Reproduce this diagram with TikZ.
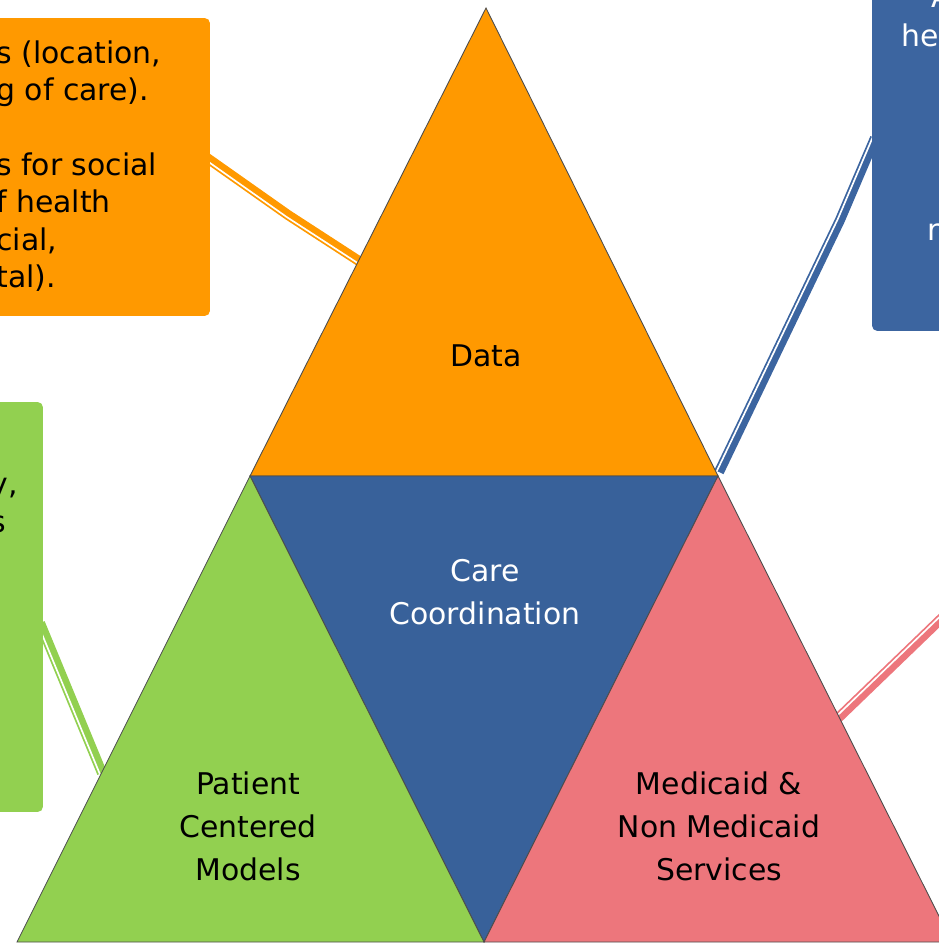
\documentclass[tikz,border=0pt]{standalone}
\usepackage{fontspec}
\setmainfont{DejaVu Sans}
\usepackage{xcolor}
\usepackage{tikz}
\definecolor{datacolor}{RGB}{255,153,0}
\definecolor{carecolor}{RGB}{56,97,154}
\definecolor{careboxcolor}{RGB}{60,101,160}
\definecolor{patientcolor}{RGB}{146,208,80}
\definecolor{servicecolor}{RGB}{237,118,124}

\begin{document}
\begin{tikzpicture}[
    x=0.02cm, y=-0.02cm,
    tri/.style={draw=black!70, line width=0.5pt, line join=miter, fill=#1},
    panel/.style={fill=#1, rounded corners=3pt, inner sep=0pt},
    trilabel/.style={font=\fontsize{17}{24.4}\selectfont, align=center, text=#1},
    notetext/.style={font=\fontsize{17}{21.3}\selectfont, align=left, inner sep=0pt, text=#1},
    link/.style={draw=#1, line width=5.7pt},
    linkgap/.style={draw=white, line width=0.95pt}
]
    \useasboundingbox (0,0) rectangle (939,946);
    \clip (0,0) rectangle (939,946);

    % Triangle corners
    \coordinate (top) at (486,8);
    \coordinate (midl) at (250,476);
    \coordinate (midr) at (718,476);
    \coordinate (botl) at (17,942);
    \coordinate (botm) at (484,942);
    \coordinate (botr) at (952,942);

    % Connector ends
    \coordinate (dataout) at (200,153);
    \coordinate (databend) at (288,215);
    \coordinate (datain) at (362,263);
    \coordinate (careout) at (875,138);
    \coordinate (carebend) at (840,220);
    \coordinate (carein) at (719,472);
    \coordinate (patientout) at (40,623);
    \coordinate (patientin) at (102,773);
    \coordinate (servicein) at (836,720);
    \coordinate (serviceout) at (1000,562);

    % Connectors
    \draw[link=datacolor] (dataout) -- (databend) -- (datain);
    \draw[linkgap, transform canvas={shift={(-0.78pt,-1.12pt)}}] (dataout) -- (databend) -- (datain);
    \draw[link=careboxcolor] (careout) -- (carebend) -- (carein);
    \draw[linkgap, transform canvas={shift={(-1.23pt,0.6pt)}}] (careout) -- (carebend) -- (carein);
    \draw[link=patientcolor] (patientout) -- (patientin);
    \draw[linkgap, transform canvas={shift={(-1.26pt,-0.52pt)}}] (patientout) -- (patientin);
    \draw[link=servicecolor] (servicein) -- (serviceout);
    \draw[linkgap, transform canvas={shift={(-0.92pt,1.01pt)}}] (servicein) -- (serviceout);

    % Triangles
    \draw[tri=datacolor] (top) -- (midr) -- (midl) -- cycle;
    \draw[tri=carecolor] (midl) -- (midr) -- (botm) -- cycle;
    \draw[tri=patientcolor] (midl) -- (botm) -- (botl) -- cycle;
    \draw[tri=servicecolor] (midr) -- (botr) -- (botm) -- cycle;

    % Text boxes
    \node[panel=datacolor, minimum width=4.6cm, minimum height=5.96cm] (databox) at (95,167) {};
    \node[panel=careboxcolor, minimum width=4.16cm, minimum height=7.22cm] (carebox) at (976,150.5) {};
    \node[panel=patientcolor, minimum width=4.86cm, minimum height=8.2cm] (patientbox) at (-78.5,607) {};

    \node[notetext=black, anchor=north west] (datanote) at (-4,40) {s (location,\\g of care).\\ \\s for social\\f health\\cial,\\tal).};
    \node[notetext=white, anchor=base west] (carenotea) at (931,8) {A};
    \node[notetext=white, anchor=base west] (carenoteb) at (901,47) {he};
    \node[notetext=white, anchor=base west] (carenotec) at (927,240) {r};
    \node[notetext=black, anchor=north west] (patientnote) at (-10,478) {y,\\s};

    % Triangle labels
    \node[trilabel=black] (data) at (486,356) {Data};
    \node[trilabel=white] (care) at (485,592) {Care\\Coordination};
    \node[trilabel=black] (patient) at (248,826) {Patient\\Centered\\Models};
    \node[trilabel=black] (services) at (719,826) {Medicaid \&\\Non Medicaid\\Services};
\end{tikzpicture}
\end{document}
